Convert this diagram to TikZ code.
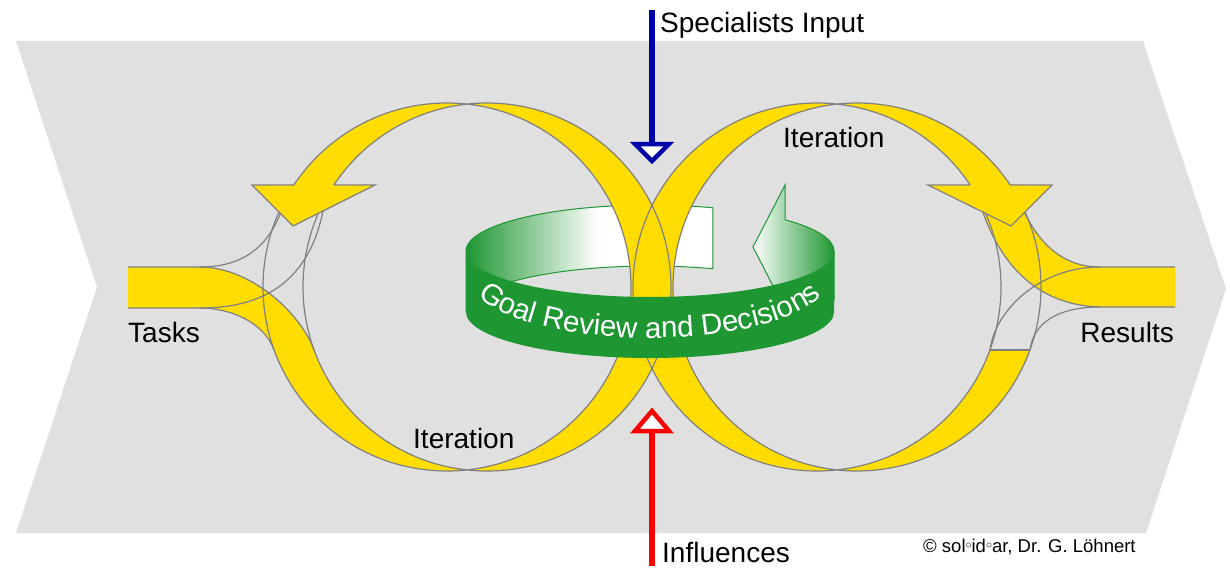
\documentclass[tikz,border=0pt]{standalone}
\usepackage{fontspec}
\setmainfont{Liberation Sans}
\usetikzlibrary{decorations.text}
\definecolor{bggray}{RGB}{224,224,224}
\definecolor{yel}{RGB}{255,221,0}
\definecolor{edgegray}{RGB}{128,128,128}
\definecolor{ringgreen}{RGB}{30,150,50}
\definecolor{inblue}{RGB}{0,0,170}
\definecolor{inred}{RGB}{255,0,0}
\begin{document}
\begin{tikzpicture}[x=1pt,y=-1pt,
  edgeline/.style={draw=edgegray,line width=1.2pt},
  yfill/.style={fill=yel},
  lbl/.style={inner sep=0pt,font=\fontsize{28}{30}\selectfont},
  arrowshaft/.style={line width=5.5pt},
  openhead/.style={line width=4.5pt,fill=white,line join=miter},
]
\useasboundingbox (0,0) rectangle (1230,567);
\fill[white] (0,0) rectangle (1230,567);
% chevron background
\fill[bggray] (16,41) -- (1143,41) -- (1226,289) -- (1146,533) -- (16,533) -- (97,287) -- cycle;

% ---- ring: back strip (inside) ----
\def\strippath{(466,251) arc[start angle=180,end angle=290,x radius=184,y radius=46]
  -- ([shift={(650,312)}]290:184 and 46) arc[start angle=290,end angle=180,x radius=184,y radius=46] -- cycle}
\fill[white] \strippath;
\begin{scope}
  \clip \strippath;
  \shade[left color=ringgreen,right color=white] (466,195) rectangle (598,320);
\end{scope}
\draw[ringgreen,line width=1pt] \strippath;
% ring arrowhead (back right)
\path[left color=white,right color=ringgreen,draw=ringgreen,line width=1pt]
  (785,185) -- ([shift={(650,251)}]317.2:184 and 46)
  arc[start angle=317.2,end angle=360,x radius=184,y radius=46]
  -- (834,300) -- (775,290) -- (753,247) -- cycle;

% ---- yellow loops ----
\fill[yel,even odd rule] (447,287) circle[radius=184] (487,287) circle[radius=184];
\fill[yel,even odd rule] (817,287) circle[radius=184] (857,287) circle[radius=184];
\fill[bggray] (255,185.5) rectangle (342,349);
\fill[bggray] (962,185.5) rectangle (1048,349.5);

% Tasks band
\fill[yel] (128,267) -- (200,267) .. controls (250,267) and (300,312) .. (314,350)
  -- (274,350) .. controls (264,322) and (230,308) .. (200,308) -- (128,308) -- cycle;
% Results band
\fill[yel] (979,200) -- (1019,200) .. controls (1035,240) and (1060,267) .. (1100,267)
  -- (1175,267) -- (1175,307) -- (1100,307) .. controls (1030,305) and (995,255) .. (979,200) -- cycle;

% outlines
\draw[edgeline] (447,287) circle[radius=184] (487,287) circle[radius=184]
  (817,287) circle[radius=184] (857,287) circle[radius=184];
\draw[edgeline] (128,267) -- (200,267) .. controls (250,267) and (300,312) .. (314,350);
\draw[edgeline] (128,308) -- (200,308) .. controls (230,308) and (264,322) .. (274,350);
\draw[edgeline] (285,200) .. controls (272,245) and (245,267) .. (200,267);
\draw[edgeline] (325,200) .. controls (312,285) and (260,308) .. (200,308);
\draw[edgeline] (1019,200) .. controls (1035,240) and (1060,267) .. (1100,267) -- (1175,267);
\draw[edgeline] (979,200) .. controls (995,255) and (1030,305) .. (1100,307) -- (1175,307);
\draw[edgeline] (1100,267) .. controls (1040,267) and (995,310) .. (990,350);
\draw[edgeline] (1100,307) .. controls (1055,307) and (1033,325) .. (1030,350);
\draw[edgeline] (990,350) -- (1030,350);

% yellow arrowheads
\fill[yel] (252,185) -- (375,185) -- (293,226) -- cycle;
\draw[edgeline,line join=miter] (294,185) -- (252,185) -- (293,226) -- (375,185) -- (334,185);
\fill[yel] (928,185) -- (1052,185) -- (1011,226) -- cycle;
\draw[edgeline,line join=miter] (970,185) -- (928,185) -- (1011,226) -- (1052,185) -- (1010,185);

% ---- ring: front band ----
\fill[ringgreen] (466,251) arc[start angle=180,end angle=0,x radius=184,y radius=46]
  -- (834,312) arc[start angle=0,end angle=180,x radius=184,y radius=46] -- cycle;
\path[decorate,decoration={text along path,text align=center,text color=white,
  text={|\fontsize{29.5}{30}\selectfont|Goal Review and Decisions}}]
  (471,278) arc[start angle=180,end angle=0,x radius=179,y radius=60];

% ---- input arrows ----
\coordinate (specStart) at (652,10);
\coordinate (specBase) at (652,144);
\coordinate (inflStart) at (652,566);
\coordinate (inflBase) at (652,431);
\draw[inblue,arrowshaft] (specStart) -- (specBase);
\draw[inblue,openhead] (635,144) -- (669,144) -- (652,161) -- cycle;
\draw[inred,arrowshaft] (inflStart) -- (inflBase);
\draw[inred,openhead] (635,431) -- (669,431) -- (652,411) -- cycle;

% ---- labels ----
\node[lbl,anchor=base west] (spec) at (660,33) {Specialists Input};
\node[lbl,anchor=base west] (iterTop) at (783,147) {Iteration};
\node[lbl,anchor=base west] (tasks) at (128,342) {Tasks};
\node[lbl,anchor=base east] (results) at (1174,342) {Results};
\node[lbl,anchor=base west] (iterBot) at (413,448) {Iteration};
\node[lbl,anchor=base west] (infl) at (662,562) {Influences};
\node[inner sep=0pt,font=\fontsize{18.5}{20}\selectfont,anchor=base west] (copy) at (923,552)
  {© sol\raisebox{.35ex}{\fontsize{12}{12}\selectfont$\circ$}id\raisebox{.35ex}{\fontsize{12}{12}\selectfont$\circ$}ar, Dr. G. Löhnert};
\end{tikzpicture}
\end{document}
